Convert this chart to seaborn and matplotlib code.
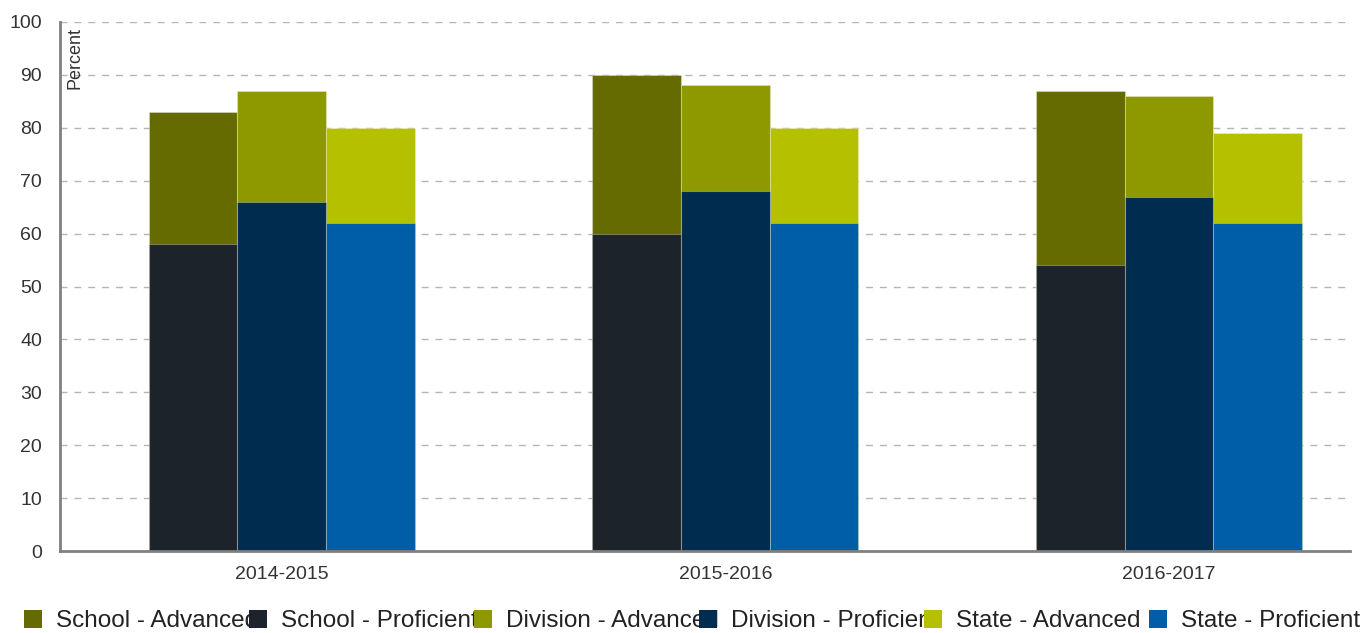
import matplotlib
matplotlib.use('Agg')
import matplotlib.pyplot as plt
import seaborn as sns
import pandas as pd
from matplotlib.patches import Patch
from matplotlib.transforms import blended_transform_factory

# ---- data ----
years = ['2014-2015', '2015-2016', '2016-2017']
entities = ['School', 'Division', 'State']
school_proficient = [58, 60, 54]
school_advanced = [25, 30, 33]
division_proficient = [66, 68, 67]
division_advanced = [21, 20, 19]
state_proficient = [62, 62, 62]
state_advanced = [18, 18, 17]
y_ticks = list(range(0, 101, 10))
legend_labels = ['School - Advanced', 'School - Proficient',
                 'Division - Advanced', 'Division - Proficient',
                 'State - Advanced', 'State - Proficient']

# ---- styles ----
adv_colors = ['#656b00', '#8e9900', '#b5c000']
prof_colors = ['#1c232a', '#002c50', '#005da8']

sns.set_theme(style='white')
plt.rcParams['font.family'] = ['Liberation Sans', 'DejaVu Sans']

rows = []
for ent, prof, adv in zip(entities,
                          [school_proficient, division_proficient, state_proficient],
                          [school_advanced, division_advanced, state_advanced]):
    for yr, p, a in zip(years, prof, adv):
        rows.append(dict(Year=yr, Entity=ent, Proficient=p, Advanced=a, Total=p + a))
df = pd.DataFrame(rows)

W, H = 1371, 633
fig = plt.figure(figsize=(W / 100, H / 100), dpi=100)
ax = fig.add_axes([60 / W, 82 / H, 1290 / W, 529 / H])

common = dict(data=df, x='Year', hue='Entity', hue_order=entities, order=years,
              width=0.6, dodge=True, gap=0, ax=ax, legend=False, saturation=1,
              errorbar=None, edgecolor=(1, 1, 1, 0.3), linewidth=0.8)
sns.barplot(y='Total', palette=adv_colors, **common)
sns.barplot(y='Proficient', palette=prof_colors, **common)

ax.set_xlim(-0.5, 2.408)
ax.set_ylim(0, 100)
ax.set_yticks(y_ticks)
ax.set_xlabel('')
ax.set_ylabel('')
ax.set_axisbelow(True)
ax.yaxis.grid(True, linestyle=(0, (5, 5)), color='#b5b5b5', linewidth=1)
ax.xaxis.grid(False)
for s in ['top', 'right']:
    ax.spines[s].set_visible(False)
for s in ['left', 'bottom']:
    ax.spines[s].set_color('#808080')
    ax.spines[s].set_linewidth(2)
ax.tick_params(axis='y', length=0, pad=13, labelsize=14, labelcolor='#333333')
ax.tick_params(axis='x', length=0, pad=11, labelsize=14, labelcolor='#333333')

trans = blended_transform_factory(ax.transAxes, ax.transData)
ax.text(0.0116, 99.0, 'Percent', rotation=90, ha='center', va='top',
        fontsize=13, color='#333333', transform=trans)

legend_colors = [adv_colors[0], prof_colors[0], adv_colors[1], prof_colors[1],
                 adv_colors[2], prof_colors[2]]
fs = 17.5
fs_px = fs * 100 / 72
for i, (lab, col) in enumerate(zip(legend_labels, legend_colors)):
    fig.legend(handles=[Patch(facecolor=col, edgecolor='none', label=lab)],
               loc='center left', bbox_to_anchor=((24 + 225 * i) / W, 12 / H),
               frameon=False, fontsize=fs, handlelength=18 / fs_px,
               handleheight=18 / fs_px, handletextpad=14 / fs_px,
               borderpad=0, borderaxespad=0, labelcolor='#222222')

fig.savefig('out.png', dpi=100)
